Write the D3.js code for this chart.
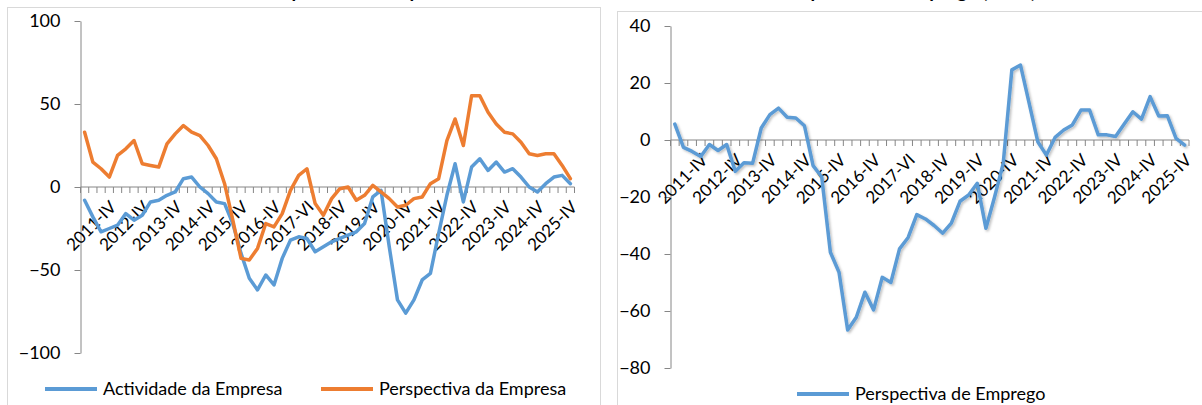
<!DOCTYPE html>
<meta charset="utf-8">
<style>
  body { margin: 0; background: #fff; }
  text { font-family: Lato, "Open Sans", sans-serif; fill: #000; }
</style>
<body>
</body>
<script src="https://d3js.org/d3.v7.min.js"></script>
<script>

// quarters 2011-I .. 2025-IV
var quarters = ["2011-I","2011-II","2011-III","2011-IV","2012-I","2012-II","2012-III","2012-IV",
  "2013-I","2013-II","2013-III","2013-IV","2014-I","2014-II","2014-III","2014-IV",
  "2015-I","2015-II","2015-III","2015-IV","2016-I","2016-II","2016-III","2016-IV",
  "2017-I","2017-II","2017-III","2017-IV","2018-I","2018-II","2018-III","2018-IV",
  "2019-I","2019-II","2019-III","2019-IV","2020-I","2020-II","2020-III","2020-IV",
  "2021-I","2021-II","2021-III","2021-IV","2022-I","2022-II","2022-III","2022-IV",
  "2023-I","2023-II","2023-III","2023-IV","2024-I","2024-II","2024-III","2024-IV",
  "2025-I","2025-II","2025-III","2025-IV"];

// labels shown under the axis (one per year, as printed)
var tickLabels = ["2011-IV","2012-IV","2013-IV","2014-IV","2015-IV","2016-IV","2017-VI","2018-IV",
  "2019-IV","2020-IV","2021-IV","2022-IV","2023-IV","2024-IV","2025-IV"];

var actividade = [-8,-18,-27,-25,-23,-16,-20,-17,-9,-8,-5,-3,5,6,0,-4,-9,-10,-22,-40,
  -55,-62,-53,-59,-43,-32,-30,-31,-39,-36,-33,-31,-29,-27,-22,-6,-2,-36,-68,-76,
  -68,-56,-52,-28,-5,14,-9,12,17,10,15,9,11,6,0,-3,2,6,7,2];

var perspectiva = [33,15,11,6,19,23,28,14,13,12,26,32,37,33,31,25,17,2,-20,-43,
  -44,-37,-22,-24,-16,-2,7,11,-10,-17,-7,-1,0,-8,-5,1,-3,-7,-12,-11,
  -7,-6,2,5,28,41,25,55,55,45,38,33,32,27,20,19,20,20,13,5];

var emprego = [5.6,-2.6,-4,-5.8,-1.6,-3.7,-1.6,-11,-8,-8.2,4.2,8.9,11.2,8,7.7,5,-9,-13,-39.4,-46.4,
  -66.7,-62.2,-53.4,-59.6,-48.2,-50,-38.2,-34.2,-26.2,-27.7,-30,-32.7,-29.2,-21.5,-19.3,-15.2,-31,-20,-8.2,24.6,
  26.3,12.9,-0.6,-5.3,0.9,3.5,5.3,10.5,10.5,1.8,1.8,1.2,5.6,9.9,7.3,15.2,8.4,8.5,0.6,-1.8];

var leftTicks = [-100,-50,0,50,100];
var rightTicks = [-80,-60,-40,-20,0,20,40];

var blue = "#5B9BD5", orange = "#ED7D31", axisGrey = "#868686";

var svg = d3.select("body").append("svg")
  .attr("width", 1202)
  .attr("height", 405);

svg.append("rect").attr("width", 1202).attr("height", 405).attr("fill", "#fff");

// soft shadow used under the employment line
var defs = svg.append("defs");
var f = defs.append("filter").attr("id", "shadow").attr("x", "-5%").attr("y", "-5%")
  .attr("width", "110%").attr("height", "110%");
f.append("feDropShadow").attr("dx", 1.5).attr("dy", 1.5).attr("stdDeviation", 1.2)
  .attr("flood-color", "#000").attr("flood-opacity", 0.25);

// chart frames
svg.append("rect").attr("x", 7.5).attr("y", 7.5).attr("width", 593).attr("height", 430)
  .attr("fill", "none").attr("stroke", "#d9d9d9");
svg.append("rect").attr("x", 617.5).attr("y", 11.5).attr("width", 620).attr("height", 430)
  .attr("fill", "none").attr("stroke", "#d9d9d9");

// titles (cut off at the top of the picture, as in the original)
svg.append("text").attr("x", 300).attr("y", -2).attr("text-anchor", "middle")
  .style("font-weight", "bold").style("font-size", "19px")
  .text("Actividade e Perspectiva da Empresa");
svg.append("text").attr("x", 905).attr("y", -2).attr("text-anchor", "middle")
  .style("font-weight", "bold").style("font-size", "19px")
  .text("Perspectiva de Emprego (saldo)");

function drawPanel(cfg) {
  var band = d3.scaleBand().domain(quarters).range([cfg.x0, cfg.x1]);
  var x = function(q) { return band(q) + band.bandwidth() / 2; };
  var y = d3.scaleLinear().domain(cfg.domain).range([cfg.y1, cfg.y0]);

  var g = svg.append("g");

  // y axis
  var yAxis = d3.axisLeft(y).tickValues(cfg.ticks).tickSize(6).tickSizeOuter(0).tickPadding(14);
  var ya = g.append("g").attr("transform", "translate(" + cfg.x0 + ",0)").call(yAxis);
  ya.selectAll("path, line").attr("stroke", axisGrey);
  ya.selectAll("text").style("font-size", "18px").style("font-family", "Lato").attr("fill", "#000");

  // x axis at zero
  var y0 = y(0);
  g.append("line").attr("x1", cfg.x0).attr("x2", cfg.x1).attr("y1", y0).attr("y2", y0)
    .attr("stroke", axisGrey);
  var bounds = quarters.map(function(q) { return band(q); }).concat([cfg.x1]);
  g.selectAll(".xtick").data(bounds).enter().append("line")
    .attr("x1", function(d) { return d; }).attr("x2", function(d) { return d; })
    .attr("y1", y0).attr("y2", y0 + 6)
    .attr("stroke", axisGrey);

  var labelled = quarters.filter(function(q) { return /-IV$/.test(q); });
  g.selectAll(".xlab").data(labelled).enter().append("text")
    .attr("transform", function(q) { return "translate(" + (x(q) + 8) + "," + (y0 + 21) + ") rotate(-45)"; })
    .attr("text-anchor", "end")
    .style("font-size", "17px")
    .text(function(q, i) { return tickLabels[i]; });

  // series
  var line = d3.line()
    .x(function(d, i) { return x(quarters[i]); })
    .y(function(d) { return y(d); });
  cfg.series.forEach(function(s) {
    var p = g.append("path").datum(s.values)
      .attr("fill", "none")
      .attr("stroke", s.color)
      .attr("stroke-width", 3.5)
      .attr("stroke-linejoin", "round")
      .attr("stroke-linecap", "round")
      .attr("d", line);
    if (cfg.shadow) p.attr("filter", "url(#shadow)");
  });

  // legend
  cfg.legend.forEach(function(l) {
    g.append("line").attr("x1", l.x).attr("x2", l.x + 52).attr("y1", l.y).attr("y2", l.y)
      .attr("stroke", l.color).attr("stroke-width", 4);
    g.append("text").attr("x", l.x + 58).attr("y", l.y).attr("dy", "0.35em")
      .style("font-size", "18px").text(l.name);
  });
}

drawPanel({
  x0: 80.5, x1: 574.5, y0: 21, y1: 353, domain: [-100, 100], ticks: leftTicks,
  series: [{values: actividade, color: blue}, {values: perspectiva, color: orange}],
  legend: [{x: 45, y: 389, color: blue, name: "Actividade da Empresa"},
           {x: 321, y: 389, color: orange, name: "Perspectiva da Empresa"}]
});

drawPanel({
  x0: 670.5, x1: 1189, y0: 26, y1: 368, domain: [-80, 40], ticks: rightTicks, shadow: true,
  series: [{values: emprego, color: blue}],
  legend: [{x: 797, y: 394, color: blue, name: "Perspectiva de Emprego"}]
});

</script>
